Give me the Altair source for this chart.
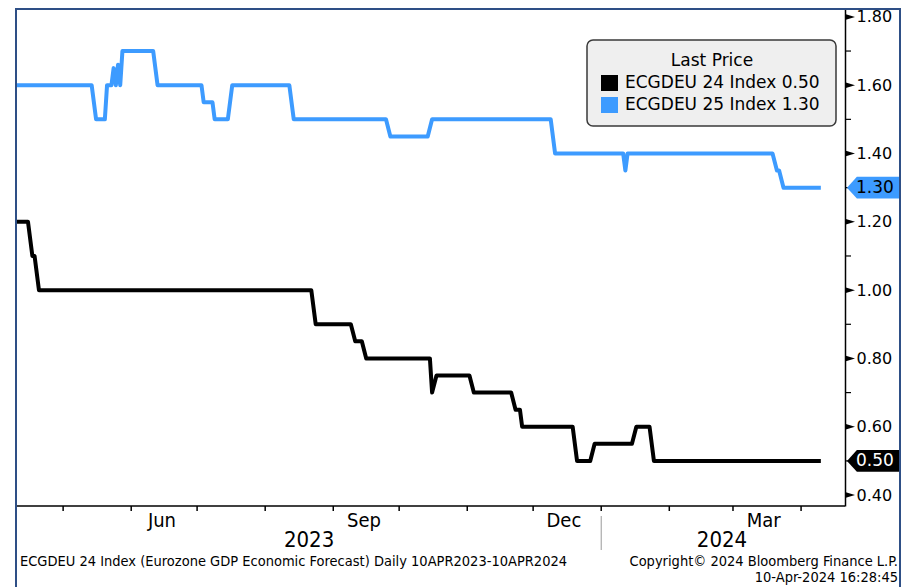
import altair as alt
import pandas as pd

# ---------------- data ----------------
black_dates = ["2023-04-10", "2023-04-15", "2023-04-17", "2023-04-18", "2023-04-20",
               "2023-08-22", "2023-08-24", "2023-09-09", "2023-09-11", "2023-09-14",
               "2023-09-16", "2023-10-15", "2023-10-16", "2023-10-18", "2023-11-02",
               "2023-11-04", "2023-11-21", "2023-11-23", "2023-11-25", "2023-11-26",
               "2023-12-19", "2023-12-21", "2023-12-27", "2023-12-29", "2024-01-15",
               "2024-01-17", "2024-01-23", "2024-01-25", "2024-04-10"]
black_values = [1.20, 1.20, 1.10, 1.10, 1.00,
                1.00, 0.90, 0.90, 0.85, 0.85,
                0.80, 0.80, 0.70, 0.75, 0.75,
                0.70, 0.70, 0.65, 0.65, 0.60,
                0.60, 0.50, 0.50, 0.55, 0.55,
                0.60, 0.60, 0.50, 0.50]

blue_dates = ["2023-04-10", "2023-05-14", "2023-05-16", "2023-05-20", "2023-05-21",
              "2023-05-23", "2023-05-24", "2023-05-25", "2023-05-26", "2023-05-27",
              "2023-05-28", "2023-06-11", "2023-06-13", "2023-07-03", "2023-07-04",
              "2023-07-08", "2023-07-09", "2023-07-15", "2023-07-17", "2023-08-12",
              "2023-08-14", "2023-09-25", "2023-09-27", "2023-10-14", "2023-10-16",
              "2023-12-09", "2023-12-11", "2024-01-11", "2024-01-12", "2024-01-13",
              "2024-03-19", "2024-03-21", "2024-03-22", "2024-03-24", "2024-04-10"]
blue_values = [1.60, 1.60, 1.50, 1.50, 1.60,
               1.60, 1.65, 1.60, 1.66, 1.60,
               1.70, 1.70, 1.60, 1.60, 1.55,
               1.55, 1.50, 1.50, 1.60, 1.60,
               1.50, 1.50, 1.45, 1.45, 1.50,
               1.50, 1.40, 1.40, 1.35, 1.40,
               1.40, 1.35, 1.35, 1.30, 1.30]

series_names = ["ECGDEU 24 Index", "ECGDEU 25 Index"]
series_colors = ["#000000", "#3d9bff"]
tag_text_colors = ["#ffffff", "#000000"]
last_values = [0.50, 1.30]
legend_title = "Last Price"

major_ticks = [0.40, 0.60, 0.80, 1.00, 1.20, 1.40, 1.60, 1.80]
minor_ticks = [0.50, 0.70, 0.90, 1.10, 1.30, 1.50, 1.70]
y_domain = [0.368, 1.826]

month_ticks = ["2023-05-01", "2023-06-01", "2023-07-01", "2023-08-01", "2023-09-01",
               "2023-10-01", "2023-11-01", "2023-12-01", "2024-01-01", "2024-02-01",
               "2024-03-01", "2024-04-01"]
month_label_dates = ["2023-06-15", "2023-09-15", "2023-12-15", "2024-03-15"]
month_labels = ["Jun", "Sep", "Dec", "Mar"]
years = ["2023", "2024"]
year_boundary = "2024-01-01"
x_start = (2023, 4, 10)
x_end = (2024, 4, 21)

footer_left = "ECGDEU 24 Index (Eurozone GDP Economic Forecast)  Daily 10APR2023-10APR2024"
footer_right = ["Copyright\u00a9 2024 Bloomberg Finance L.P.", "10-Apr-2024 16:28:45"]

# ---------------- layout / style ----------------
W, H = 828, 498
FONT = "DejaVu Sans"
NARROW = "Liberation Sans Narrow, DejaVu Sans Condensed, Liberation Sans"
FRAME = "#2e4f86"

xs = alt.Scale(type="utc",
               domain=[alt.DateTime(year=x_start[0], month=x_start[1], date=x_start[2], utc=True),
                       alt.DateTime(year=x_end[0], month=x_end[1], date=x_end[2], utc=True)])
ys = alt.Scale(domain=y_domain, nice=False, zero=False)
y_axis = alt.Axis(orient="right", values=major_ticks, format=".2f", labelFont=FONT,
                  labelFontSize=16, labelColor="#000000", tickSize=0, labelPadding=11,
                  domainColor="#000000", domainWidth=1.5, grid=False, title=None)


def X(field):
    return alt.X(field, type="temporal", scale=xs, axis=None)


def Y(field):
    return alt.Y(field, type="quantitative", scale=ys, axis=y_axis)


one = pd.DataFrame({"k": [0]})

df_black = pd.DataFrame({"date": black_dates, "value": black_values})
df_blue = pd.DataFrame({"date": blue_dates, "value": blue_values})

lines = [
    alt.Chart(df).mark_line(strokeWidth=4, color=c, strokeJoin="round").encode(
        x=X("date"), y=Y("value"))
    for df, c in [(df_black, series_colors[0]), (df_blue, series_colors[1])]
]

# bottom axis
bottom_domain = alt.Chart(one).mark_rule(color="#000000", strokeWidth=1.5).encode(
    x=alt.value(0), x2=alt.value(W), y=alt.value(H))
ticks = alt.Chart(pd.DataFrame({"date": month_ticks})).mark_rule(
    color="#000000", strokeWidth=1.5).encode(x=X("date"), y=alt.value(H), y2=alt.value(H + 5))
mlabels = alt.Chart(pd.DataFrame({"date": month_label_dates, "t": month_labels})).mark_text(
    font=NARROW, fontSize=20, color="#000000", baseline="middle").encode(
    x=X("date"), y=alt.value(H + 15), text="t:N")

b = pd.Timestamp(year_boundary)
s = pd.Timestamp(year=x_start[0], month=x_start[1], day=x_start[2])
e = pd.Timestamp(year=x_end[0], month=x_end[1], day=x_end[2])
year_pos = [(s + (b - s) / 2).strftime("%Y-%m-%d"), (b + (e - b) / 2).strftime("%Y-%m-%d")]
ylabels = alt.Chart(pd.DataFrame({"date": year_pos, "t": years})).mark_text(
    font=NARROW, fontSize=22, color="#000000", baseline="middle").encode(
    x=X("date"), y=alt.value(H + 34), text="t:N")
sep = alt.Chart(pd.DataFrame({"date": [year_boundary]})).mark_rule(
    color="#9a9a9a", strokeWidth=1).encode(x=X("date"), y=alt.value(H + 10), y2=alt.value(H + 44))

footer_l = alt.Chart(pd.DataFrame({"t": [footer_left]})).mark_text(
    font=NARROW, fontSize=14.5, align="left", baseline="middle", color="#000000").encode(
    x=alt.value(3), y=alt.value(H + 56), text="t:N")
footer_r = [
    alt.Chart(pd.DataFrame({"t": [txt]})).mark_text(
        font=NARROW, fontSize=14.5, align="right", baseline="middle", color="#000000").encode(
        x=alt.value(881), y=alt.value(H + 56 + 16 * i), text="t:N")
    for i, txt in enumerate(footer_right)
]

# right axis decorations
tri_shape = "M-1,-0.6L1,0L-1,0.6Z"
tri = alt.Chart(pd.DataFrame({"v": major_ticks})).mark_point(
    shape=tri_shape, filled=True, opacity=1, size=100, color="#000000").encode(
    x=alt.value(W + 5), y=Y("v"))
minor = alt.Chart(pd.DataFrame({"v": minor_ticks})).mark_rule(
    color="#000000", strokeWidth=1.2).encode(x=alt.value(W), x2=alt.value(W + 6), y=Y("v"))

tag_shape = "M-1,0L-0.62,-0.42L1,-0.42L1,0.42L-0.62,0.42Z"
tags = []
for v, c, tc in zip(last_values, series_colors, tag_text_colors):
    d = pd.DataFrame({"v": [v], "t": [f"{v:.2f}"]})
    tags.append(alt.Chart(d).mark_point(shape=tag_shape, filled=True, opacity=1, size=2704,
                                         color=c).encode(x=alt.value(W + 28), y=Y("v")))
    tags.append(alt.Chart(d).mark_text(font=FONT, fontSize=17, align="left", baseline="middle",
                                        color=tc).encode(x=alt.value(W + 11), y=Y("v"), text="t:N"))

# legend
leg = [alt.Chart(one).mark_rect(fill="#efefef", stroke="#3a3a3a", strokeWidth=1.5,
                                cornerRadius=6).encode(
    x=alt.value(570), x2=alt.value(819), y=alt.value(32), y2=alt.value(118)),
    alt.Chart(pd.DataFrame({"t": [legend_title]})).mark_text(
        font=FONT, fontSize=17, align="center", baseline="middle", color="#000000").encode(
        x=alt.value(695), y=alt.value(53), text="t:N")]
for i, (name, c, v) in enumerate(zip(series_names, series_colors, last_values)):
    yy = 75 + 22 * i
    leg.append(alt.Chart(one).mark_rect(fill=c).encode(
        x=alt.value(584), x2=alt.value(601), y=alt.value(yy - 8), y2=alt.value(yy + 8)))
    leg.append(alt.Chart(pd.DataFrame({"t": [f"{name} {v:.2f}"]})).mark_text(
        font=FONT, fontSize=17, align="left", baseline="middle", color="#000000").encode(
        x=alt.value(608), y=alt.value(yy), text="t:N"))

# frame
frame = [
    alt.Chart(one).mark_rule(color=FRAME, strokeWidth=2).encode(
        x=alt.value(-1), x2=alt.value(883), y=alt.value(1)),
    alt.Chart(one).mark_rule(color=FRAME, strokeWidth=2).encode(
        x=alt.value(-1), y=alt.value(0), y2=alt.value(H + 81)),
    alt.Chart(one).mark_rule(color=FRAME, strokeWidth=2).encode(
        x=alt.value(883), y=alt.value(0), y2=alt.value(H + 81)),
]

chart = alt.layer(
    *lines, bottom_domain, ticks, mlabels, ylabels, sep, footer_l, *footer_r,
    minor, tri, *tags, *leg, *frame
).properties(
    width=W, height=H,
    autosize=alt.AutoSizeParams(type="none"),
    padding={"left": 9, "top": 0, "right": 56, "bottom": 81},
    background="#ffffff",
).configure_view(stroke=None)

chart.save("out.html", embed_options={"renderer": "svg", "actions": False})
